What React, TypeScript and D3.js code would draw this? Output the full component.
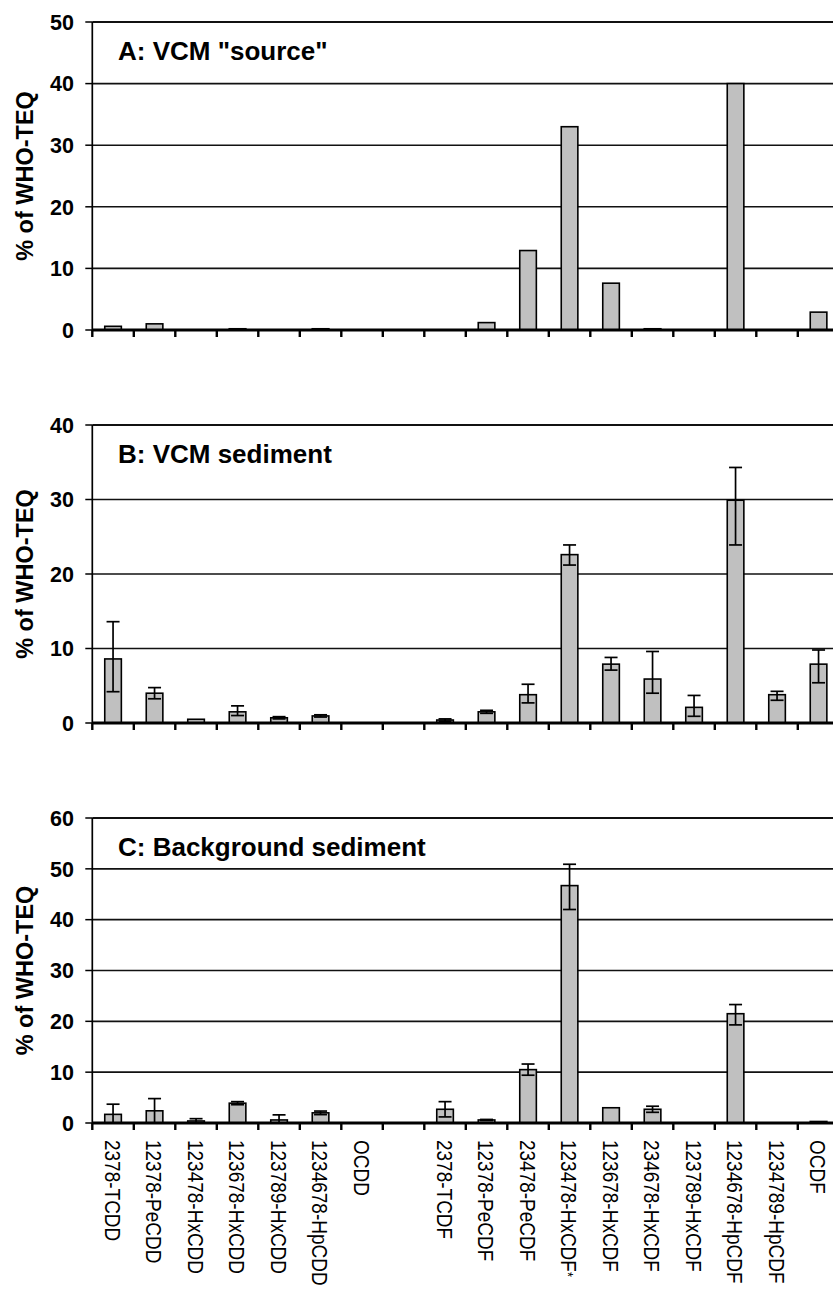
import React from "react";
import * as d3 from "d3";

// Congener categories (blank entry separates the dioxins from the furans)
const congeners = [
  "2378-TCDD", "12378-PeCDD", "123478-HxCDD", "123678-HxCDD", "123789-HxCDD",
  "1234678-HpCDD", "OCDD", "", "2378-TCDF", "12378-PeCDF", "23478-PeCDF",
  "123478-HxCDF*", "123678-HxCDF", "234678-HxCDF", "123789-HxCDF",
  "1234678-HpCDF", "1234789-HpCDF", "OCDF",
];

// A: VCM "source" (% of WHO-TEQ)
const sourceValues = [0.6, 1.0, 0, 0.2, 0, 0.2, 0, 0, 0, 1.2, 12.9, 33.0, 7.6, 0.2, 0, 40.0, 0, 2.9];

// B: VCM sediment, with upper / lower error extents
const vcmSedimentValues = [8.6, 4.0, 0.5, 1.5, 0.7, 0.95, 0, 0, 0.4, 1.5, 3.8, 22.6, 7.9, 5.9, 2.1, 29.9, 3.8, 7.9];
const vcmSedimentErrUp = [5.0, 0.75, 0, 0.8, 0.15, 0.15, 0, 0, 0.15, 0.2, 1.4, 1.3, 0.9, 3.7, 1.6, 4.4, 0.45, 1.9];
const vcmSedimentErrDown = [4.4, 0.75, 0, 0.5, 0.15, 0.15, 0, 0, 0.15, 0.2, 1.1, 1.4, 0.8, 1.9, 1.2, 6.0, 0.75, 2.5];

// C: Background sediment, with upper / lower error extents
const backgroundValues = [1.7, 2.4, 0.4, 3.9, 0.6, 2.0, 0, 0, 2.7, 0.6, 10.5, 46.7, 3.0, 2.7, 0, 21.5, 0, 0.3];
const backgroundErrUp = [2.0, 2.4, 0.45, 0.3, 1.0, 0.35, 0, 0, 1.5, 0.1, 1.1, 4.2, 0, 0.6, 0, 1.8, 0, 0];
const backgroundErrDown = [2.0, 2.4, 0.45, 0.3, 1.0, 0.35, 0, 0, 1.5, 0.1, 1.1, 4.7, 0, 0.6, 0, 2.2, 0, 0];

const panelTitles = ['A: VCM "source"', "B: VCM sediment", "C: Background sediment"];
const yMaxima = [50, 40, 60];
const yTitle = "% of WHO-TEQ";

const W = 833;
const H = 1289;
const FONT = "'Liberation Sans', Arial, Helvetica, sans-serif";

const plotLeft = 92.3;
const bandW = 41.5;
const plotRight = plotLeft + bandW * congeners.length;

const layout = [
  { top: 22, bottom: 330 },
  { top: 425, bottom: 723 },
  { top: 818, bottom: 1123 },
];

const panels = [
  { values: sourceValues, up: null as number[] | null, down: null as number[] | null },
  { values: vcmSedimentValues, up: vcmSedimentErrUp, down: vcmSedimentErrDown },
  { values: backgroundValues, up: backgroundErrUp, down: backgroundErrDown },
];

const x = d3
  .scaleBand<string>()
  .domain(congeners.map((c, i) => `${i}`))
  .range([plotLeft, plotRight])
  .paddingInner(0)
  .paddingOuter(0);

function Panel({ idx }: { idx: number }) {
  const { top, bottom } = layout[idx];
  const { values, up, down } = panels[idx];
  const yMax = yMaxima[idx];
  const y = d3.scaleLinear().domain([0, yMax]).range([bottom, top]);
  const ticks = d3.range(0, yMax + 1, 10);
  const barW = x.bandwidth() * 0.4;
  const capW = 13;

  return (
    <g>
      {/* gridlines */}
      {ticks.filter((t) => t > 0).map((t) => (
        <line key={`g${t}`} x1={plotLeft} x2={plotRight} y1={y(t)} y2={y(t)}
          stroke="#111" strokeWidth={t === yMax ? 2 : 1.6} />
      ))}
      {/* y axis */}
      <line x1={plotLeft} x2={plotLeft} y1={top} y2={bottom} stroke="#000" strokeWidth={1.7} />
      {ticks.map((t) => (
        <g key={`t${t}`}>
          <line x1={plotLeft - 7} x2={plotLeft} y1={y(t)} y2={y(t)} stroke="#000" strokeWidth={1.5} />
          <text x={74} y={y(t)} dy="0.36em" textAnchor="end" fontFamily={FONT}
            fontWeight="bold" fontSize={21.5}>{t}</text>
        </g>
      ))}
      {/* bars */}
      {values.map((v, i) => {
        if (v <= 0) return null;
        const cx = (x(`${i}`) as number) + x.bandwidth() / 2;
        return (
          <rect key={`b${i}`} x={cx - barW / 2} y={y(v)} width={barW} height={y(0) - y(v)}
            fill="#c0c0c0" stroke="#000" strokeWidth={1.6} />
        );
      })}
      {/* error bars */}
      {up && down && values.map((v, i) => {
        if (v <= 0 || (up[i] <= 0 && down[i] <= 0)) return null;
        const cx = (x(`${i}`) as number) + x.bandwidth() / 2;
        const hi = y(v + up[i]);
        const lo = y(Math.max(0, v - down[i]));
        return (
          <g key={`e${i}`} stroke="#000" strokeWidth={1.7}>
            <line x1={cx} x2={cx} y1={hi} y2={lo} />
            <line x1={cx - capW / 2} x2={cx + capW / 2} y1={hi} y2={hi} />
            <line x1={cx - capW / 2} x2={cx + capW / 2} y1={lo} y2={lo} />
          </g>
        );
      })}
      {/* category axis */}
      <line x1={plotLeft} x2={plotRight} y1={bottom} y2={bottom} stroke="#000" strokeWidth={2.8} />
      {d3.range(congeners.length + 1).map((k) => {
        const tx = plotLeft + k * x.bandwidth();
        return <line key={`x${k}`} x1={tx} x2={tx} y1={bottom} y2={bottom + 7} stroke="#000" strokeWidth={2.4} />;
      })}
      {/* panel label */}
      <text x={118} y={top + 38} fontFamily={FONT} fontWeight="bold" fontSize={26}>
        {panelTitles[idx]}
      </text>
      {/* y title */}
      <text transform={`translate(33, ${(top + bottom) / 2}) rotate(-90)`} textAnchor="middle"
        fontFamily={FONT} fontWeight="bold" fontSize={23.5}>{yTitle}</text>
    </g>
  );
}

export default function App() {
  const last = layout[layout.length - 1];
  return (
    <svg width={W} height={H} viewBox={`0 0 ${W} ${H}`}
      style={{ position: "absolute", left: 0, top: 0, background: "#fff" }}>
      <rect width={W} height={H} fill="#fff" />
      {layout.map((_, i) => <Panel key={i} idx={i} />)}
      {congeners.map((c, i) => {
        if (!c) return null;
        const cx = (x(`${i}`) as number) + x.bandwidth() / 2;
        const starred = c.endsWith("*");
        const name = starred ? c.slice(0, -1) : c;
        return (
          <text key={`l${i}`} transform={`translate(${cx}, ${last.bottom + 17}) rotate(90) scale(1, 1.18)`}
            dy="0.36em" fontFamily={FONT} fontSize={19}>
            {name}
            {starred && <tspan fontSize={13} dy="-0.1em">*</tspan>}
          </text>
        );
      })}
    </svg>
  );
}
